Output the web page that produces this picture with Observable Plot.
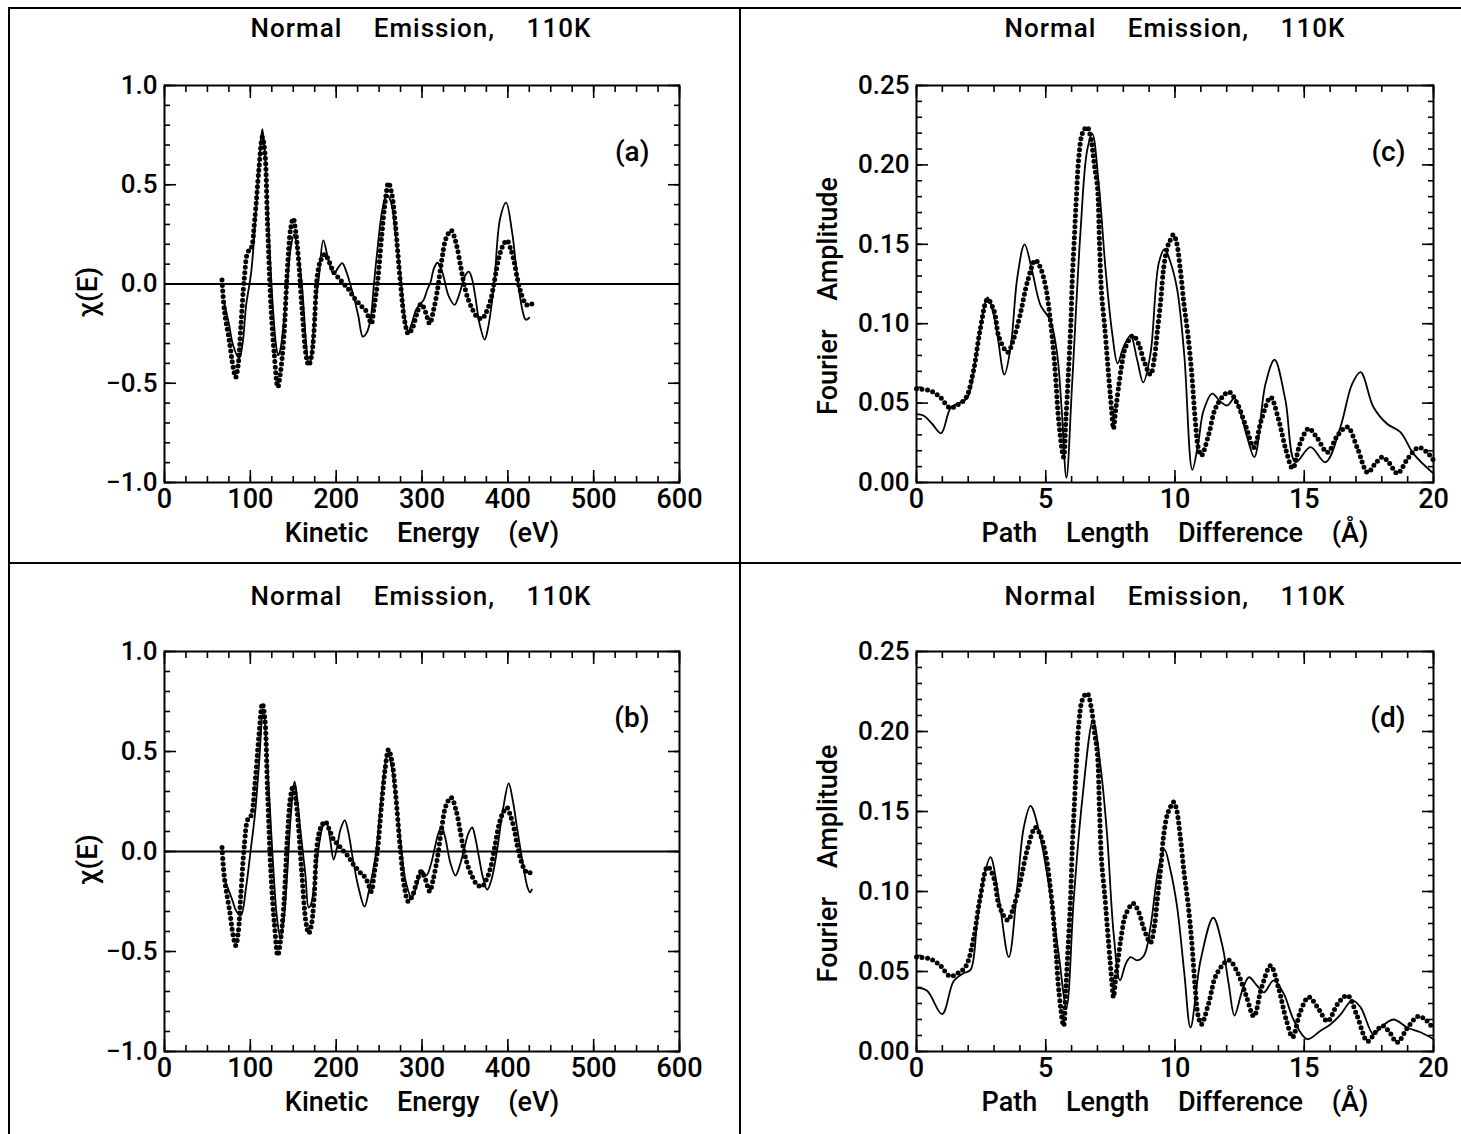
<!DOCTYPE html>
<html>
<head>
<meta charset="utf-8">
<script src="https://cdn.jsdelivr.net/npm/d3@7"></script>
<script src="https://cdn.jsdelivr.net/npm/@observablehq/plot@0.6"></script>
<style>
  body { margin: 0; background: #fff; }
  #page { position: relative; width: 1461px; height: 1134px; overflow: hidden; background: #fff; font-family: Roboto, "DejaVu Sans", sans-serif; color: #000; }
  .rule { position: absolute; background: #000; }
  .title { position: absolute; font-family: Roboto, sans-serif; font-weight: 500; font-size: 26px; letter-spacing: 1px; word-spacing: 24px; text-align: center; line-height: 30px; white-space: nowrap; }
  .panel { position: absolute; }
</style>
</head>
<body>
<div id="page"></div>
<script>
// ---------------- data ----------------
const titleText = "Normal Emission, 110K";

// Kinetic energy axis ticks
const energyTicks = [0, 100, 200, 300, 400, 500, 600];
const chiTicks = [-1.0, -0.5, 0.0, 0.5, 1.0];
// Path length axis ticks
const pathTicks = [0, 5, 10, 15, 20];
const ampTicks = [0.00, 0.05, 0.10, 0.15, 0.20, 0.25];

// Experimental chi(E) (dots), shared by (a) and (b)
const expE = [67, 70, 76, 80, 83, 86, 89, 93, 97, 101, 105, 110, 114, 117, 120, 124, 128, 132, 135, 139, 143, 147, 150, 153, 156, 160, 165, 168, 171, 174, 178, 182, 187, 192, 197, 203, 209, 215, 220, 225, 230, 234, 238, 241, 244, 248, 253, 257, 261, 265, 269, 275, 280, 284, 289, 294, 299, 304, 309, 313, 318, 323, 328, 334, 340, 345, 349, 354, 359, 364, 370, 375, 380, 385, 390, 395, 399, 403, 407, 411, 415, 420, 424, 428];
const expChi = [0.02, -0.14, -0.30, -0.42, -0.47, -0.40, -0.21, 0.03, 0.16, 0.18, 0.32, 0.58, 0.74, 0.66, 0.31, -0.11, -0.36, -0.52, -0.45, -0.27, 0.06, 0.28, 0.33, 0.26, 0.13, -0.11, -0.36, -0.41, -0.37, -0.25, 0.04, 0.12, 0.15, 0.11, 0.06, 0.03, 0.00, -0.03, -0.065, -0.09, -0.115, -0.13, -0.17, -0.20, -0.12, 0.00, 0.24, 0.41, 0.51, 0.45, 0.30, 0.00, -0.19, -0.25, -0.22, -0.15, -0.10, -0.14, -0.20, -0.14, -0.03, 0.12, 0.23, 0.27, 0.20, 0.09, 0.00, -0.08, -0.13, -0.165, -0.175, -0.14, -0.08, 0.03, 0.14, 0.20, 0.22, 0.18, 0.12, 0.03, -0.04, -0.095, -0.11, -0.10];

// Theory chi(E), panel (a)
const thAE = [70, 75, 80, 87, 91, 95, 101, 107, 111, 114, 117, 120, 126, 130, 132.5, 135, 139, 143, 147, 151, 155, 160, 165, 168, 170, 172, 176, 180, 185, 191, 197, 202, 207, 212, 217, 222, 226, 231, 235, 240, 244, 248, 254, 259, 264, 270, 275, 280, 284, 288, 293, 298, 302, 306, 310, 314, 318, 322, 325, 331, 338, 342, 345, 350, 354.5, 358, 362, 367, 373, 377, 384, 391, 398, 405, 412, 418, 421, 425];
const thAChi = [-0.10, -0.20, -0.31, -0.375, -0.30, -0.11, 0.06, 0.39, 0.66, 0.78, 0.66, 0.40, -0.10, -0.31, -0.36, -0.33, -0.19, 0.00, 0.18, 0.25, 0.17, 0.00, -0.30, -0.40, -0.39, -0.32, -0.10, 0.04, 0.22, 0.12, 0.05, 0.08, 0.105, 0.06, -0.01, -0.09, -0.165, -0.265, -0.25, -0.18, 0.00, 0.17, 0.38, 0.45, 0.41, 0.22, 0.04, -0.17, -0.24, -0.20, -0.13, -0.10, -0.08, -0.03, 0.01, 0.08, 0.107, 0.08, 0.04, -0.06, -0.105, -0.07, -0.03, 0.04, 0.062, 0.03, -0.06, -0.20, -0.28, -0.22, 0.00, 0.33, 0.41, 0.26, 0.00, -0.15, -0.18, -0.17];

// Theory chi(E), panel (b)
const thBE = [70, 78, 84, 89, 95, 100.5, 105.5, 110, 115, 120, 126, 131, 135, 139, 143, 147, 151.5, 155, 158, 164, 168, 171, 174, 181, 185, 189, 193, 197, 201, 205, 210, 214, 220, 226, 233, 238, 246, 251, 256, 260, 264, 270, 275, 281, 288, 294, 300, 305, 310, 315, 319, 323, 327, 333, 339, 344, 349, 354, 358.5, 362, 366, 371, 376, 381, 387.6, 394, 401, 406, 411, 418.7, 423, 426, 428];
const thBChi = [-0.14, -0.23, -0.30, -0.32, -0.18, 0.01, 0.19, 0.43, 0.71, 0.43, -0.03, -0.33, -0.43, -0.34, -0.11, 0.17, 0.35, 0.25, 0.12, -0.11, -0.28, -0.26, -0.18, 0.06, 0.13, 0.14, 0.06, -0.04, 0.02, 0.11, 0.156, 0.10, -0.05, -0.18, -0.276, -0.20, -0.02, 0.20, 0.40, 0.49, 0.44, 0.25, 0.05, -0.15, -0.23, -0.17, -0.095, -0.12, -0.07, 0.02, 0.09, 0.12, 0.07, -0.056, -0.12, -0.07, 0.01, 0.09, 0.12, 0.07, -0.02, -0.13, -0.19, -0.14, 0.01, 0.20, 0.34, 0.25, 0.11, -0.09, -0.18, -0.205, -0.19];

// Experimental Fourier amplitude (dots), shared by (c) and (d)
const expR = [0, 0.5, 0.9, 1.3, 1.6, 1.9, 2.2, 2.45, 2.75, 3.0, 3.2, 3.53, 3.75, 4.0, 4.3, 4.6, 4.8, 5.0, 5.18, 5.31, 5.4, 5.5, 5.69, 5.78, 5.88, 5.97, 6.03, 6.1, 6.18, 6.28, 6.42, 6.6, 6.75, 6.88, 7.0, 7.08, 7.16, 7.28, 7.44, 7.55, 7.62, 7.7, 7.8, 7.95, 8.08, 8.38, 8.6, 8.79, 9.05, 9.2, 9.31, 9.45, 9.56, 9.7, 9.8, 9.94, 10.05, 10.2, 10.35, 10.5, 10.64, 10.78, 10.9, 11.02, 11.3, 11.6, 12.08, 12.4, 12.75, 13.05, 13.35, 13.7, 14.0, 14.3, 14.55, 14.85, 15.17, 15.5, 15.9, 16.3, 16.67, 17.05, 17.45, 17.75, 18.03, 18.3, 18.6, 19.0, 19.42, 19.75, 20.0];
const expAmp = [0.059, 0.058, 0.054, 0.047, 0.049, 0.053, 0.070, 0.095, 0.1155, 0.108, 0.091, 0.082, 0.090, 0.105, 0.127, 0.140, 0.135, 0.123, 0.102, 0.081, 0.062, 0.039, 0.016, 0.040, 0.070, 0.100, 0.130, 0.152, 0.178, 0.205, 0.220, 0.224, 0.216, 0.200, 0.186, 0.150, 0.119, 0.098, 0.066, 0.045, 0.034, 0.045, 0.058, 0.075, 0.085, 0.0925, 0.087, 0.077, 0.068, 0.078, 0.094, 0.115, 0.135, 0.148, 0.152, 0.156, 0.152, 0.135, 0.112, 0.093, 0.070, 0.040, 0.022, 0.017, 0.030, 0.048, 0.057, 0.050, 0.035, 0.022, 0.040, 0.0536, 0.040, 0.020, 0.009, 0.025, 0.034, 0.028, 0.019, 0.030, 0.035, 0.022, 0.0063, 0.012, 0.016, 0.012, 0.0057, 0.015, 0.022, 0.019, 0.014];

// Theory Fourier amplitude, panel (c)
const thCR = [0, 0.28, 0.6, 0.95, 1.32, 1.63, 1.96, 2.28, 2.5, 2.75, 2.95, 3.12, 3.4, 3.64, 3.9, 4.18, 4.47, 4.8, 5.18, 5.44, 5.62, 5.8, 6.02, 6.34, 6.6, 6.8, 7.05, 7.31, 7.57, 7.78, 8.0, 8.28, 8.54, 8.77, 9.05, 9.37, 9.6, 9.8, 10.08, 10.36, 10.67, 10.9, 11.1, 11.44, 11.75, 12.02, 12.3, 12.6, 12.8, 13.07, 13.5, 13.85, 14.27, 14.66, 15.24, 15.82, 16.4, 16.85, 17.18, 17.68, 18.2, 18.72, 19.23, 20.0];
const thCAmp = [0.043, 0.042, 0.037, 0.031, 0.047, 0.050, 0.053, 0.077, 0.100, 0.1166, 0.108, 0.094, 0.068, 0.085, 0.129, 0.150, 0.1335, 0.1115, 0.102, 0.081, 0.045, 0.003, 0.062, 0.157, 0.209, 0.2196, 0.188, 0.135, 0.094, 0.075, 0.085, 0.0925, 0.077, 0.063, 0.081, 0.138, 0.147, 0.140, 0.122, 0.080, 0.008, 0.025, 0.045, 0.056, 0.051, 0.0485, 0.053, 0.040, 0.028, 0.016, 0.062, 0.0773, 0.052, 0.0128, 0.0223, 0.0128, 0.035, 0.062, 0.0695, 0.0474, 0.037, 0.0317, 0.018, 0.0056];

// Theory Fourier amplitude, panel (d)
const thDR = [0, 0.41, 0.99, 1.44, 1.83, 2.09, 2.35, 2.6, 2.86, 3.18, 3.57, 3.9, 4.15, 4.41, 4.73, 5.18, 5.5, 5.8, 6.08, 6.41, 6.83, 7.12, 7.37, 7.63, 7.87, 8.1, 8.28, 8.54, 8.8, 9.05, 9.37, 9.6, 9.8, 10.08, 10.36, 10.6, 10.99, 11.48, 11.82, 12.08, 12.3, 12.6, 12.86, 13.18, 13.44, 13.82, 14.21, 14.6, 15.11, 15.63, 16.02, 16.4, 16.86, 17.18, 17.68, 17.95, 18.45, 18.98, 19.5, 20.0];
const thDAmp = [0.040, 0.038, 0.0234, 0.044, 0.049, 0.051, 0.082, 0.108, 0.1215, 0.0965, 0.059, 0.103, 0.140, 0.1535, 0.1385, 0.098, 0.061, 0.0276, 0.0946, 0.157, 0.207, 0.178, 0.136, 0.073, 0.0445, 0.055, 0.059, 0.057, 0.060, 0.0777, 0.115, 0.126, 0.115, 0.0906, 0.049, 0.015, 0.057, 0.0836, 0.067, 0.042, 0.0225, 0.038, 0.0464, 0.041, 0.037, 0.0445, 0.036, 0.0194, 0.0077, 0.013, 0.017, 0.023, 0.032, 0.0276, 0.0106, 0.015, 0.020, 0.015, 0.012, 0.0077];

// ---------------- helpers ----------------
const toRows = (xs, ys) => xs.map((x, i) => ({x, y: ys[i]}));
const page = document.getElementById("page");

function addRule(l, t, w, h) {
  const d = document.createElement("div");
  d.className = "rule";
  Object.assign(d.style, {left: l + "px", top: t + "px", width: w + "px", height: h + "px"});
  page.appendChild(d);
}
function addTitle(cx, cy) {
  const d = document.createElement("div");
  d.className = "title";
  d.textContent = titleText;
  Object.assign(d.style, {left: (cx - 300) + "px", top: (cy - 15) + "px", width: "600px"});
  page.appendChild(d);
}
function place(svg, l, t) {
  const wrap = document.createElement("div");
  wrap.className = "panel";
  wrap.style.left = l + "px";
  wrap.style.top = t + "px";
  wrap.appendChild(svg);
  page.appendChild(wrap);
}

const baseStyle = {fontFamily: "Roboto, sans-serif", fontSize: "21px", fontWeight: 500, color: "#000", background: "transparent", overflow: "visible", wordSpacing: "22px"};
const blank = () => "";

function frameTicks(xMajor, xMinor, yMajor, yMinor) {
  const out = [];
  for (const anchor of ["bottom", "top"]) {
    out.push(Plot.axisX({anchor, ticks: xMajor, tickSize: -12, tickFormat: blank, label: null, strokeWidth: 1.6}));
    out.push(Plot.axisX({anchor, ticks: xMinor, tickSize: -6, tickFormat: blank, label: null, strokeWidth: 1.6}));
  }
  for (const anchor of ["left", "right"]) {
    out.push(Plot.axisY({anchor, ticks: yMajor, tickSize: -12, tickFormat: blank, label: null, strokeWidth: 1.6}));
    out.push(Plot.axisY({anchor, ticks: yMinor, tickSize: -6, tickFormat: blank, label: null, strokeWidth: 1.6}));
  }
  return out;
}

function chiPanel(theoryRows, tag, height) {
  return Plot.plot({
    width: 740, height,
    marginLeft: 164, marginRight: 61, marginTop: 45, marginBottom: 78,
    x: {domain: [0, 600]},
    y: {domain: [-1, 1]},
    style: baseStyle,
    marks: [
      ...frameTicks(energyTicks, d3.range(0, 601, 25), chiTicks, d3.range(-1, 1.0001, 0.1)),
      Plot.axisX({anchor: "bottom", ticks: energyTicks, tickSize: 0, tickPadding: 6, tickFormat: d3.format("d"),
        label: "Kinetic Energy (eV)", labelAnchor: "center", labelOffset: 59, labelArrow: "none", fontSize: 27}),
      Plot.axisY({anchor: "left", ticks: chiTicks, tickSize: 0, tickPadding: 7, tickFormat: d3.format(".1f"), label: null, fontSize: 26}),
      Plot.text(["χ(E)"], {frameAnchor: "left", rotate: -90, dx: -76, dy: 8, fontSize: 28, textAnchor: "middle", lineAnchor: "middle"}),
      Plot.ruleY([0], {strokeWidth: 1.8}),
      Plot.line(theoryRows, {x: "x", y: "y", curve: "catmull-rom", strokeWidth: 1.8}),
      Plot.line(toRows(expE, expChi), {x: "x", y: "y", curve: "catmull-rom", strokeWidth: 5, strokeDasharray: "0 5.5", strokeLinecap: "round"}),
      Plot.text([tag], {frameAnchor: "top-right", dx: -30, dy: 56, fontSize: 28, textAnchor: "end"}),
      Plot.frame({strokeWidth: 2})
    ]
  });
}

function fourierPanel(theoryRows, tag, height) {
  return Plot.plot({
    width: 721, height,
    marginLeft: 176, marginRight: 28, marginTop: 45, marginBottom: 78,
    x: {domain: [0, 20]},
    y: {domain: [0, 0.25]},
    style: baseStyle,
    marks: [
      ...frameTicks(pathTicks, d3.range(0, 20.001, 1), ampTicks, d3.range(0, 0.2501, 0.01)),
      Plot.axisX({anchor: "bottom", ticks: pathTicks, tickSize: 0, tickPadding: 6, tickFormat: d3.format("d"),
        label: "Path Length Difference (Å)", labelAnchor: "center", labelOffset: 59, labelArrow: "none", fontSize: 27}),
      Plot.axisY({anchor: "left", ticks: ampTicks, tickSize: 0, tickPadding: 7, tickFormat: d3.format(".2f"), label: null, fontSize: 26}),
      Plot.text(["Fourier Amplitude"], {frameAnchor: "left", rotate: -90, dx: -88, dy: 12, fontSize: 27, textAnchor: "middle", lineAnchor: "middle"}),
      Plot.line(theoryRows, {x: "x", y: "y", curve: "catmull-rom", strokeWidth: 1.8}),
      Plot.line(toRows(expR, expAmp), {x: "x", y: "y", curve: "catmull-rom", strokeWidth: 5, strokeDasharray: "0 5.5", strokeLinecap: "round"}),
      Plot.text([tag], {frameAnchor: "top-right", dx: -28, dy: 56, fontSize: 28, textAnchor: "end"}),
      Plot.frame({strokeWidth: 2})
    ]
  });
}

// ---------------- layout ----------------
addRule(8, 7, 1453, 2);     // top border
addRule(8, 7, 2, 1127);     // left border
addRule(739, 7, 2, 1127);   // middle vertical divider
addRule(8, 562, 1453, 2);   // middle horizontal divider

addTitle(421, 28);
addTitle(1175, 28);
addTitle(421, 596);
addTitle(1175, 596);

place(chiPanel(toRows(thAE, thAChi), "(a)", 520), 0, 40);
place(fourierPanel(toRows(thCR, thCAmp), "(c)", 520), 740, 40);
place(chiPanel(toRows(thBE, thBChi), "(b)", 523), 0, 606);
place(fourierPanel(toRows(thDR, thDAmp), "(d)", 523), 740, 606);
</script>
</body>
</html>
